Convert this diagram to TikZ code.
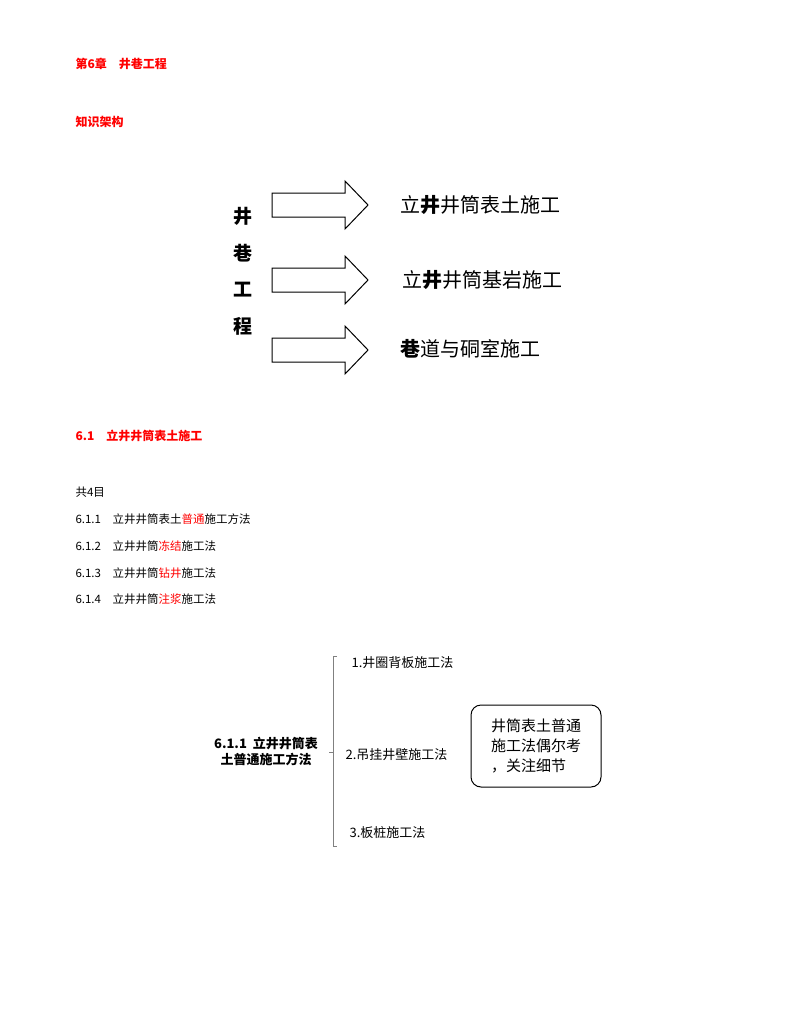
\documentclass[tikz,border=0pt]{standalone}
\usepackage{fontspec}
\setmainfont{Noto Sans CJK SC}
\newfontfamily\cjk{Noto Sans CJK SC}
\newfontfamily\cjkb[FakeBold=2]{Noto Sans CJK SC}
\begin{document}
\begin{tikzpicture}[x=1pt,y=-1pt,
  redh/.style={anchor=west,text=red,font=\fontsize{12}{14}\selectfont\bfseries},
  item/.style={anchor=west,font=\fontsize{11.5}{14}\selectfont},
  big/.style={anchor=west,font=\fontsize{20}{24}\selectfont},
  vert/.style={font=\fontsize{19}{22}\selectfont\bfseries},
  bigarrow/.style={draw,line width=1pt,fill=white},
  mitem/.style={anchor=west,font=\fontsize{13}{16}\selectfont}]
\useasboundingbox (0,0) rectangle (800,1035);
\node[redh] (h1) at (72,64) {第6章\quad 井巷工程};
\node[redh] (h2) at (72,122) {知识架构};
\foreach \y/\n in {205/a1,280/a2,350/a3}{
  \draw[bigarrow] (272,\y-12) -- (345,\y-12) -- (345,\y-24) -- (368,\y) -- (345,\y+24) -- (345,\y+12) -- (272,\y+12) -- cycle;
}
\node[vert] (v1) at (243,216) {井};
\node[vert] (v2) at (243,253) {巷};
\node[vert] (v3) at (243,290) {工};
\node[vert] (v4) at (243,326) {程};
\node[big] (t1) at (397,205) {立\textbf{井}井筒表土施工};
\node[big] (t2) at (399,280) {立\textbf{井}井筒基岩施工};
\node[big] (t3) at (397,349) {\textbf{巷}道与硐室施工};
\node[redh] (h3) at (72,436) {6.1\quad 立井井筒表土施工};
\node[item] (c0) at (72,492) {共4目};
\node[item] (c1) at (72,519) {6.1.1\quad 立井井筒表土\textcolor{red}{普通}施工方法};
\node[item] (c2) at (72,546) {6.1.2\quad 立井井筒\textcolor{red}{冻结}施工法};
\node[item] (c3) at (72,573) {6.1.3\quad 立井井筒\textcolor{red}{钻井}施工法};
\node[item] (c4) at (72,599) {6.1.4\quad 立井井筒\textcolor{red}{注浆}施工法};
\node[align=center,font=\fontsize{13}{16}\selectfont\bfseries] (root) at (266,751) {6.1.1\ \ 立井井筒表\\土普通施工方法};
\coordinate (bt) at (333,656);
\coordinate (bb) at (333,846);
\draw[gray,line width=0.8pt] (337,656) -- (bt) -- (bb) -- (337,846);
\draw[gray,line width=0.8pt] (333,752) -- (329,752);
\node[mitem] (m1) at (348,663) {1.井圈背板施工法};
\node[mitem] (m2) at (342,755) {2.吊挂井壁施工法};
\node[mitem] (m3) at (346,833) {3.板桩施工法};
\node[draw,line width=1pt,rounded corners=10pt,minimum width=130pt,minimum height=82pt,align=left,font=\fontsize{15}{20}\selectfont] (note) at (536,746) {井筒表土普通\\施工法偶尔考\\，关注细节};
\end{tikzpicture}
\end{document}
